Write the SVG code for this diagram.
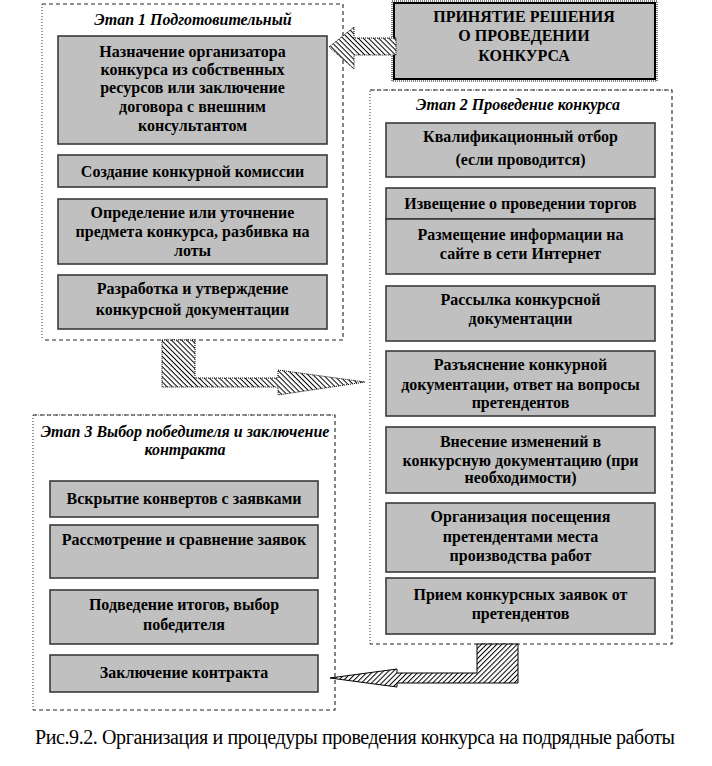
<svg xmlns="http://www.w3.org/2000/svg" width="712" height="766" viewBox="0 0 712 766">
<defs>
<pattern id="hatchA" patternUnits="userSpaceOnUse" width="3.6" height="3.6" patternTransform="rotate(45)">
<rect width="3.6" height="3.6" fill="#fff"/>
<rect width="3.6" height="1" fill="#000"/>
</pattern>
<pattern id="hatchB" patternUnits="userSpaceOnUse" width="3.6" height="3.6" patternTransform="rotate(-45)">
<rect width="3.6" height="3.6" fill="#fff"/>
<rect width="3.6" height="1" fill="#000"/>
</pattern>
</defs>
<rect x="0" y="0" width="712" height="766" fill="#ffffff"/>

<g id="decision">
<rect x="392" y="1" width="265" height="80" fill="none" stroke="#000" stroke-width="1" stroke-dasharray="1 1"/>
<rect x="394" y="3" width="261" height="76" fill="#c0c0c0" stroke="#000" stroke-width="2"/>
<text font-family="Times New Roman" font-size="16" font-weight="bold" text-anchor="middle" x="524" y="22">ПРИНЯТИЕ  РЕШЕНИЯ</text>
<text font-family="Times New Roman" font-size="16" font-weight="bold" text-anchor="middle" x="524" y="41">О ПРОВЕДЕНИИ</text>
<text font-family="Times New Roman" font-size="16" font-weight="bold" text-anchor="middle" x="524" y="61">КОНКУРСА</text>
</g>

<g id="stage1">
<path d="M42 4 H343 V340 H42" fill="none" stroke="#222" stroke-width="1.1" stroke-dasharray="4 3"/>
<path d="M42 4 V340" fill="none" stroke="#444" stroke-width="1.1" stroke-dasharray="1 2"/>
<text font-family="Times New Roman" font-size="16" font-weight="bold" font-style="italic" text-anchor="middle" x="193" y="25">Этап 1 Подготовительный</text>
<g id="s1b1">
<rect x="58" y="36" width="269" height="108" fill="#c0c0c0" stroke="#3a3a3a" stroke-width="1.6"/>
<text font-family="Times New Roman" font-size="16" font-weight="bold" text-anchor="middle" x="192.5" y="57">Назначение организатора</text>
<text font-family="Times New Roman" font-size="16" font-weight="bold" text-anchor="middle" x="192.5" y="75">конкурса  из собственных</text>
<text font-family="Times New Roman" font-size="16" font-weight="bold" text-anchor="middle" x="192.5" y="93">ресурсов или заключение</text>
<text font-family="Times New Roman" font-size="16" font-weight="bold" text-anchor="middle" x="192.5" y="112">договора с внешним</text>
<text font-family="Times New Roman" font-size="16" font-weight="bold" text-anchor="middle" x="192.5" y="131">консультантом</text>
</g>
<g id="s1b2">
<rect x="58" y="155" width="269" height="32" fill="#c0c0c0" stroke="#3a3a3a" stroke-width="1.6"/>
<text font-family="Times New Roman" font-size="16" font-weight="bold" text-anchor="middle" x="192.5" y="177">Создание конкурной  комиссии</text>
</g>
<g id="s1b3">
<rect x="58" y="199" width="269" height="65" fill="#c0c0c0" stroke="#3a3a3a" stroke-width="1.6"/>
<text font-family="Times New Roman" font-size="16" font-weight="bold" text-anchor="middle" x="192.5" y="218">Определение или уточнение</text>
<text font-family="Times New Roman" font-size="16" font-weight="bold" text-anchor="middle" x="192.5" y="237">предмета конкурса, разбивка на</text>
<text font-family="Times New Roman" font-size="16" font-weight="bold" text-anchor="middle" x="192.5" y="256">лоты</text>
</g>
<g id="s1b4">
<rect x="58" y="275" width="269" height="54" fill="#c0c0c0" stroke="#3a3a3a" stroke-width="1.6"/>
<text font-family="Times New Roman" font-size="16" font-weight="bold" text-anchor="middle" x="192.5" y="294">Разработка  и утверждение</text>
<text font-family="Times New Roman" font-size="16" font-weight="bold" text-anchor="middle" x="192.5" y="315">конкурсной  документации</text>
</g>
</g>

<g id="stage2">
<path d="M370 90 H672 V644 H370" fill="none" stroke="#222" stroke-width="1.1" stroke-dasharray="4 3"/>
<path d="M370 644 V90 H672" fill="none" stroke="#444" stroke-width="1.1" stroke-dasharray="1 2"/>
<text font-family="Times New Roman" font-size="16" font-weight="bold" font-style="italic" text-anchor="middle" x="518" y="110">Этап 2 Проведение конкурса</text>
<g id="s2b1">
<rect x="386" y="123" width="269" height="54" fill="#c0c0c0" stroke="#3a3a3a" stroke-width="1.6"/>
<text font-family="Times New Roman" font-size="16" font-weight="bold" text-anchor="middle" x="520.5" y="142">Квалификационный отбор</text>
<text font-family="Times New Roman" font-size="16" font-weight="bold" text-anchor="middle" x="520.5" y="165">(если проводится)</text>
</g>
<g id="s2b2">
<rect x="386" y="188" width="269" height="31" fill="#c0c0c0" stroke="#3a3a3a" stroke-width="1.6"/>
<text font-family="Times New Roman" font-size="16" font-weight="bold" text-anchor="middle" x="520.5" y="209">Извещение о проведении торгов</text>
</g>
<g id="s2b3">
<rect x="386" y="219" width="269" height="55" fill="#c0c0c0" stroke="#3a3a3a" stroke-width="1.6"/>
<text font-family="Times New Roman" font-size="16" font-weight="bold" text-anchor="middle" x="520.5" y="240">Размещение информации на</text>
<text font-family="Times New Roman" font-size="16" font-weight="bold" text-anchor="middle" x="520.5" y="259">сайте в сети Интернет</text>
</g>
<g id="s2b4">
<rect x="386" y="286" width="269" height="55" fill="#c0c0c0" stroke="#3a3a3a" stroke-width="1.6"/>
<text font-family="Times New Roman" font-size="16" font-weight="bold" text-anchor="middle" x="520.5" y="305">Рассылка конкурсной</text>
<text font-family="Times New Roman" font-size="16" font-weight="bold" text-anchor="middle" x="520.5" y="324">документации</text>
</g>
<g id="s2b5">
<rect x="386" y="351" width="269" height="65" fill="#c0c0c0" stroke="#3a3a3a" stroke-width="1.6"/>
<text font-family="Times New Roman" font-size="16" font-weight="bold" text-anchor="middle" x="520.5" y="370">Разъяснение конкурной</text>
<text font-family="Times New Roman" font-size="16" font-weight="bold" text-anchor="middle" x="520.5" y="390">документации, ответ на вопросы</text>
<text font-family="Times New Roman" font-size="16" font-weight="bold" text-anchor="middle" x="520.5" y="408">претендентов</text>
</g>
<g id="s2b6">
<rect x="386" y="427" width="269" height="66" fill="#c0c0c0" stroke="#3a3a3a" stroke-width="1.6"/>
<text font-family="Times New Roman" font-size="16" font-weight="bold" text-anchor="middle" x="520.5" y="447">Внесение изменений в</text>
<text font-family="Times New Roman" font-size="16" font-weight="bold" text-anchor="middle" x="520.5" y="466">конкурсную документацию (при</text>
<text font-family="Times New Roman" font-size="16" font-weight="bold" text-anchor="middle" x="520.5" y="483">необходимости)</text>
</g>
<g id="s2b7">
<rect x="386" y="503" width="269" height="69" fill="#c0c0c0" stroke="#3a3a3a" stroke-width="1.6"/>
<text font-family="Times New Roman" font-size="16" font-weight="bold" text-anchor="middle" x="520.5" y="522">Организация  посещения</text>
<text font-family="Times New Roman" font-size="16" font-weight="bold" text-anchor="middle" x="520.5" y="542">претендентами места</text>
<text font-family="Times New Roman" font-size="16" font-weight="bold" text-anchor="middle" x="520.5" y="561">производства работ</text>
</g>
<g id="s2b8">
<rect x="386" y="578" width="269" height="56" fill="#c0c0c0" stroke="#3a3a3a" stroke-width="1.6"/>
<text font-family="Times New Roman" font-size="16" font-weight="bold" text-anchor="middle" x="520.5" y="600">Прием конкурсных заявок от</text>
<text font-family="Times New Roman" font-size="16" font-weight="bold" text-anchor="middle" x="520.5" y="619">претендентов</text>
</g>
</g>

<g id="stage3">
<path d="M33 415 H335 V710 H33" fill="none" stroke="#222" stroke-width="1.1" stroke-dasharray="4 3"/>
<path d="M33 710 V415 H335" fill="none" stroke="#444" stroke-width="1.1" stroke-dasharray="1 2"/>
<text font-family="Times New Roman" font-size="16" font-weight="bold" font-style="italic" text-anchor="middle" x="185" y="437">Этап 3 Выбор победителя и заключение</text>
<text font-family="Times New Roman" font-size="16" font-weight="bold" font-style="italic" text-anchor="middle" x="185" y="455">контракта</text>
<g id="s3b1">
<rect x="50" y="481" width="268" height="36" fill="#c0c0c0" stroke="#3a3a3a" stroke-width="1.6"/>
<text font-family="Times New Roman" font-size="16" font-weight="bold" text-anchor="middle" x="184" y="504">Вскрытие конвертов с заявками</text>
</g>
<g id="s3b2">
<rect x="50" y="525" width="268" height="53" fill="#c0c0c0" stroke="#3a3a3a" stroke-width="1.6"/>
<text font-family="Times New Roman" font-size="16" font-weight="bold" text-anchor="middle" x="184" y="545">Рассмотрение и сравнение заявок</text>
</g>
<g id="s3b3">
<rect x="50" y="590" width="268" height="54" fill="#c0c0c0" stroke="#3a3a3a" stroke-width="1.6"/>
<text font-family="Times New Roman" font-size="16" font-weight="bold" text-anchor="middle" x="184" y="610">Подведение итогов, выбор</text>
<text font-family="Times New Roman" font-size="16" font-weight="bold" text-anchor="middle" x="184" y="630">победителя</text>
</g>
<g id="s3b4">
<rect x="50" y="655" width="268" height="37" fill="#c0c0c0" stroke="#3a3a3a" stroke-width="1.6"/>
<text font-family="Times New Roman" font-size="16" font-weight="bold" text-anchor="middle" x="184" y="678">Заключение контракта</text>
</g>
</g>

<g id="connectors">
<polygon points="396,38 354,38 354,27 329,47 354,69 354,55 396,55" fill="url(#hatchA)" stroke="#000" stroke-width="1" stroke-dasharray="1 1"/>
<polygon points="162,340 195,340 195,378 278,378 278,370 365,382 278,395 278,387 162,387" fill="url(#hatchA)" stroke="#000" stroke-width="1" stroke-dasharray="1 1"/>
<polygon points="477,644 518,644 518,683 397,683 397,687 330,678 397,669 397,673 477,673" fill="url(#hatchB)" stroke="#000" stroke-width="1"/>
</g>

<text id="caption" font-family="Times New Roman" font-size="20" x="35" y="744" textLength="640" lengthAdjust="spacing">Рис.9.2. Организация и процедуры проведения конкурса на подрядные работы</text>
</svg>
